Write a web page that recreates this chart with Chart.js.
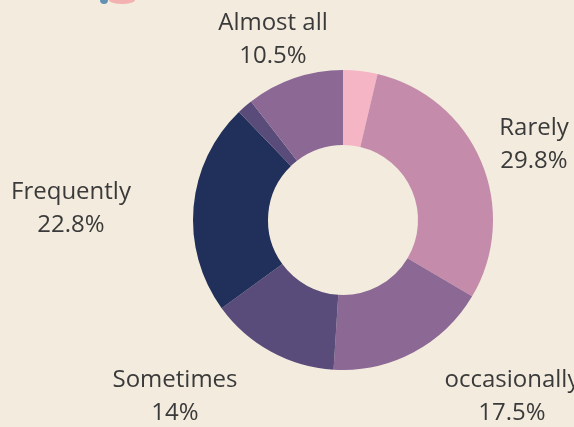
<!DOCTYPE html>
<html>
<head>
<meta charset="utf-8">
<script src="https://cdn.jsdelivr.net/npm/chart.js@4.4.0/dist/chart.umd.min.js"></script>
<style>
  html, body { margin: 0; padding: 0; background: #f3ecde; }
  #wrap { width: 574px; height: 427px; position: relative; }
</style>
</head>
<body>
<div id="wrap"><canvas id="grafico" width="574" height="427"></canvas></div>
<script>
// datos del gráfico (las porciones sin etiqueta son las dos pequeñas)
const categorias = ['', 'Rarely', 'occasionally', 'Sometimes', 'Frequently', '', 'Almost all'];
const valores = [3.7, 29.8, 17.5, 14, 22.8, 1.7, 10.5];
const colores = ['#f5b5c4', '#c58bab', '#8c6895', '#594b7a', '#21305a', '#594b7a', '#8c6895'];

// posición de cada texto respecto al centro del anillo (primera línea base)
const posEtiquetas = {
    1: { dx: 191, dy: -85 },
    2: { dx: 169, dy: 167 },
    3: { dx: -168, dy: 167 },
    4: { dx: -272, dy: -21 },
    6: { dx: -70, dy: -190 }
};

const etiquetasPlugin = {
    id: 'etiquetas',
    beforeDraw(chart) {
        const ctx = chart.ctx;
        ctx.save();
        ctx.fillStyle = '#f3ecde';
        ctx.fillRect(0, 0, chart.width, chart.height);
        // restos del logo cortado arriba a la izquierda
        ctx.globalAlpha = 0.8;
        ctx.fillStyle = '#f4a3a6';
        ctx.beginPath();
        ctx.ellipse(122, 0, 13, 4, 0, 0, Math.PI * 2);
        ctx.fill();
        ctx.fillStyle = '#3d7aa6';
        ctx.beginPath();
        ctx.arc(104, 0, 4, 0, Math.PI * 2);
        ctx.fill();
        ctx.restore();
    },
    afterDraw(chart) {
        const ctx = chart.ctx;
        const arco = chart.getDatasetMeta(0).data[0];
        const cx = arco.x, cy = arco.y;
        ctx.save();
        ctx.font = '24px "Open Sans", sans-serif';
        ctx.fillStyle = '#3a3a3a';
        ctx.textAlign = 'center';
        ctx.textBaseline = 'alphabetic';
        chart.data.labels.forEach((nombre, i) => {
            const p = posEtiquetas[i];
            if (!nombre || !p) return;
            const v = chart.data.datasets[0].data[i];
            ctx.fillText(nombre, cx + p.dx, cy + p.dy);
            ctx.fillText(v + '%', cx + p.dx, cy + p.dy + 33);
        });
        ctx.restore();
    }
};

new Chart(document.getElementById('grafico'), {
    type: 'doughnut',
    data: {
        labels: categorias,
        datasets: [{
            data: valores,
            backgroundColor: colores,
            borderWidth: 0
        }]
    },
    options: {
        responsive: false,
        animation: false,
        cutout: '50%',
        layout: { padding: { left: 193, right: 81, top: 70, bottom: 57 } },
        plugins: {
            legend: { display: false },
            tooltip: { enabled: false }
        }
    },
    plugins: [etiquetasPlugin]
});
</script>
</body>
</html>
